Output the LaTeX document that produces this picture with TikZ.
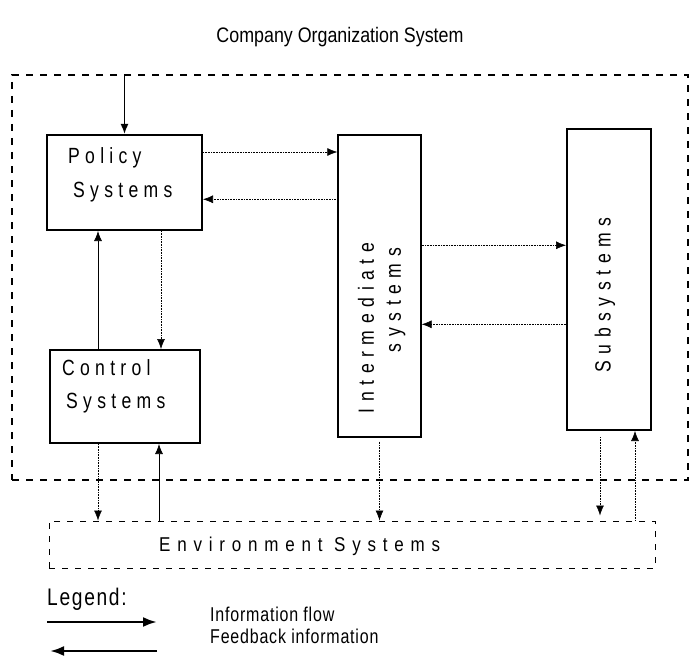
\documentclass[tikz,border=0pt]{standalone}
\usepackage{fontspec}
\usetikzlibrary{arrows.meta,calc}
\newfontfamily\handA[FakeStretch=0.8,LetterSpace=24]{Liberation Sans}
\newfontfamily\handB[FakeStretch=0.8,LetterSpace=30]{Liberation Sans}
\newfontfamily\handC[FakeStretch=0.85,LetterSpace=34]{Liberation Sans}
\newfontfamily\handD[FakeStretch=0.8,LetterSpace=4]{Liberation Sans}
\newfontfamily\handE[FakeStretch=0.85]{Liberation Sans}
\newfontfamily\handF[FakeStretch=0.8,LetterSpace=7]{Liberation Sans}
\begin{document}
\begin{tikzpicture}[x=1pt,y=-1pt,
  sysbox/.style={draw, line width=2pt, inner sep=0pt},
  thinbox/.style={draw, line width=1.4pt, inner sep=0pt},
  dbox/.style={draw, dash pattern=on 7pt off 7pt, line width=1.2pt, inner sep=0pt},
  lbl/.style={inner sep=0pt},
  boxtxt/.style={lbl, font=\handA\fontsize{22}{24}\selectfont},
  rottxt/.style={lbl, rotate=90, font=\handB\fontsize{22}{24}\selectfont},
  envfont/.style={lbl, font=\handC\fontsize{20}{22}\selectfont},
  legfont/.style={lbl, font=\handD\fontsize{20}{22}\selectfont},
  titlefont/.style={lbl, font=\handE\fontsize{21}{23}\selectfont},
  legtitle/.style={lbl, font=\handF\fontsize{24}{26}\selectfont},
  flow/.style={-{Latex[length=10pt,width=8pt]}, line width=0.6pt, densely dotted},
  sflow/.style={-{Latex[length=10pt,width=8pt]}, line width=0.7pt},
  legarrow/.style={-{Latex[length=14pt,width=10pt]}, line width=2.5pt}
]
\useasboundingbox (0,0) rectangle (694,666);

% boxes
\node[dbox, minimum width=676pt, minimum height=405pt] (org) at (350,277.5) {};
\node[sysbox, minimum width=155pt, minimum height=95pt] (pol) at (124.5,182.5) {};
\node[sysbox, minimum width=150pt, minimum height=93pt] (ctl) at (125,396.5) {};
\node[thinbox, minimum width=83pt, minimum height=302pt] (inter) at (379.5,286) {};
\node[sysbox, minimum width=84pt, minimum height=301pt] (sub) at (609,279.5) {};
\node[dbox, dash pattern=on 6pt off 7pt, line width=1pt, minimum width=606pt, minimum height=47pt] (env) at (352,544.5) {};

% texts
\node[titlefont] (title) at (340,37) {Company Organization System};
\node[boxtxt, anchor=west] (poltxt1) at (68,158) {Policy};
\node[boxtxt, anchor=west] (poltxt2) at (73,192) {Systems};
\node[boxtxt, anchor=west] (ctltxt1) at (62,368) {Control};
\node[boxtxt, anchor=west] (ctltxt2) at (66,403) {Systems};
\node[rottxt] (intxt1) at (366,328) {Intermediate};
\node[rottxt] (intxt2) at (396,300) {systems};
\node[rottxt] (subtxt) at (605,295) {Subsystems};
\node[envfont, anchor=west] (envtxt) at (159,546) {Environment Systems};
\node[legtitle, anchor=west] (legtxt) at (47,599) {Legend:};
\node[legfont, anchor=west] (leg1) at (210,614) {Information flow};
\node[legfont, anchor=west] (leg2) at (210,636) {Feedback information};

% connectors
\draw[sflow, line width=1.6pt] (pol.north |- org.north) -- (pol.north);
\draw[flow] ([yshift=-18pt]pol.north east) -- ([yshift=-18pt]pol.north east -| inter.west);
\draw[flow] ([yshift=-65pt]inter.north west) -- ([yshift=-65pt]inter.north west -| pol.east);
\draw[flow] ([yshift=-111pt]inter.north east) -- ([yshift=-111pt]inter.north east -| sub.west);
\draw[flow] ([yshift=-190pt]inter.north east -| sub.west) -- ([yshift=-190pt]inter.north east);
\draw[sflow] ([xshift=49pt]ctl.north west) -- ([xshift=49pt]ctl.north west |- pol.south);
\draw[flow] ([xshift=112pt]ctl.north west |- pol.south) -- ([xshift=112pt]ctl.north west);
\draw[flow] ([xshift=49pt]ctl.south west) -- ([xshift=49pt]ctl.south west |- env.north);
\draw[sflow] ([xshift=110pt]ctl.south west |- env.north) -- ([xshift=110pt]ctl.south west);
\draw[flow, shorten <=4pt] (inter.south) -- (inter.south |- env.north);
\draw[flow, shorten <=6pt, shorten >=5pt] ([xshift=34pt]sub.south west) -- ([xshift=34pt]sub.south west |- env.north);
\draw[flow] ([xshift=69pt]sub.south west |- env.north) -- ([xshift=69pt]sub.south west);

% legend arrows
\coordinate (la1) at (47,622);
\coordinate (lb1) at (157,622);
\coordinate (la2) at (157,651);
\coordinate (lb2) at (50,651);
\draw[legarrow] (la1) -- (lb1);
\draw[legarrow] (la2) -- (lb2);
\end{tikzpicture}
\end{document}
